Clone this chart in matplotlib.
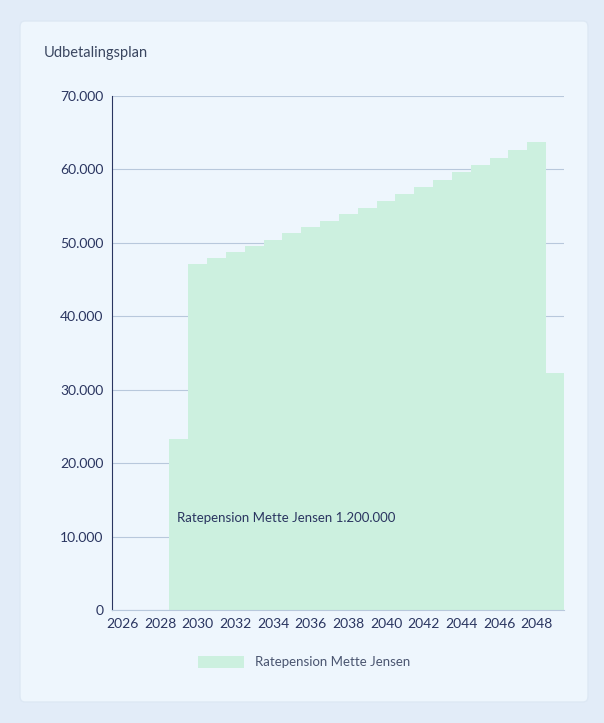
import matplotlib
matplotlib.use("Agg")
import matplotlib.pyplot as plt
from matplotlib.patches import FancyBboxPatch

plt.rcParams['font.family'] = ['Lato', 'DejaVu Sans']

years = list(range(2026, 2050))
values = [0, 0, 0, 23300, 47100, 47900, 48700, 49600, 50400, 51300, 52100, 53000,
          53900, 54800, 55700, 56600, 57600, 58600, 59600, 60600, 61600, 62700, 63800, 32300]
ticks = list(range(2026, 2050, 2))
yticks = list(range(0, 70001, 10000))
series = "Ratepension Mette Jensen"
annot = "Ratepension Mette Jensen 1.200.000"

fig = plt.figure(figsize=(6.04, 7.23), dpi=100)
fig.patch.set_facecolor('#e2ecf8')
card = FancyBboxPatch((20/604, 21/723), 568/604, 681/723, boxstyle="round,pad=0,rounding_size=0.008",
                      transform=fig.transFigure, facecolor='#eef6fd', edgecolor='#dde8f4', zorder=-10)
fig.patches.append(card)
fig.text(44/604, 1-53/723, "Udbetalingsplan", fontsize=10.5, color='#3a4660', va='center', zorder=5)

ax = fig.add_axes([112/604, 1-610/723, 452/604, 514/723])
ax.set_zorder(5)
ax.set_facecolor('none')
ax.bar(years, values, width=1.0, color='#ccf0df', edgecolor='none', zorder=2, label=series)
ax.set_xlim(2025.45, 2049.45)
ax.set_ylim(0, 70000)
ax.set_yticks(yticks)
ax.set_yticklabels([f"{v:,}".replace(",", ".") for v in yticks])
ax.set_xticks(ticks)
ax.grid(axis='y', color='#b8c8dc', linewidth=0.8, zorder=1)
for s in ['top', 'right']:
    ax.spines[s].set_visible(False)
ax.spines['bottom'].set_color('#b8c8dc')
ax.spines['left'].set_color('#2a3560')
ax.tick_params(length=0, labelsize=10, colors='#2a3560', pad=6)
ax.text(2028.9, 12000, annot, fontsize=9.5, color='#2a3560', zorder=3)
leg = fig.legend(loc='center', bbox_to_anchor=(304/604, 1-662/723), frameon=False, fontsize=9.5,
           labelcolor='#4a5570', handlelength=3.5, handleheight=1.0)
leg.set_zorder(5)
fig.savefig("out.png", dpi=100, facecolor=fig.get_facecolor())
